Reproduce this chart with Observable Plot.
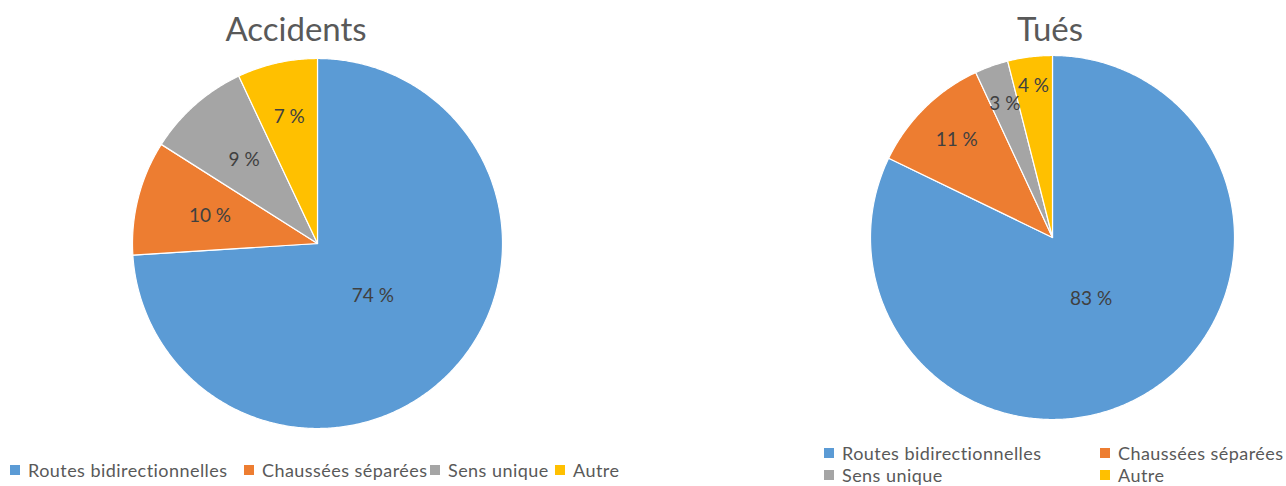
<!DOCTYPE html>
<html>
<head>
<meta charset="utf-8">
<script src="https://cdn.jsdelivr.net/npm/d3@7"></script>
<script src="https://cdn.jsdelivr.net/npm/@observablehq/plot@0.6"></script>
<style>
  html, body { margin: 0; padding: 0; background: #fff; }
  #root { position: relative; width: 1286px; height: 486px; overflow: hidden; font-family: Lato, "Open Sans", sans-serif; }
  .title { position: absolute; top: 8px; font-size: 33px; color: #595959; transform: translateX(-50%); white-space: nowrap; }
  .panel { position: absolute; top: 50px; }
  .legend { position: absolute; font-size: 18px; letter-spacing: 0.45px; color: #595959; white-space: nowrap; }
  .item { position: absolute; display: flex; align-items: center; }
  .sw { width: 10px; height: 10px; margin-right: 8px; }
</style>
</head>
<body>
<div id="root"></div>
<script>
const categories = ["Routes bidirectionnelles", "Chaussées séparées", "Sens unique", "Autre"];
const accidents = [74, 10, 9, 7];
const tues = [83, 11, 3, 4];
const titles = ["Accidents", "Tués"];
const colors = ["#5B9BD5", "#ED7D31", "#A5A5A5", "#FFC000"];

const root = document.getElementById("root");

function pieChart(values, {width, height, cx, cy, r, labelFrac}) {
  const total = d3.sum(values);
  const slices = [];
  const labels = [];
  let a0 = 0;
  values.forEach((v, i) => {
    const a1 = a0 + (v / total) * 2 * Math.PI;
    const cat = categories[i];
    slices.push({cat, x: 0, y: 0});
    const n = Math.max(2, Math.ceil((a1 - a0) / (Math.PI / 360)));
    for (let k = 0; k <= n; k++) {
      const a = a0 + (a1 - a0) * k / n;
      slices.push({cat, x: r * Math.sin(a), y: r * Math.cos(a)});
    }
    slices.push({cat, x: 0, y: 0});
    const am = (a0 + a1) / 2;
    const lr = r * labelFrac[i];
    labels.push({cat, text: `${v} %`, x: lr * Math.sin(am), y: lr * Math.cos(am)});
    a0 = a1;
  });
  return Plot.plot({
    width, height,
    margin: 0,
    style: {background: "transparent", overflow: "visible"},
    x: {domain: [-cx, width - cx], axis: null},
    y: {domain: [-(height - cy), cy], axis: null},
    color: {domain: categories, range: colors},
    marks: [
      Plot.line(slices, {x: "x", y: "y", z: "cat", fill: "cat", stroke: "white", strokeWidth: 1.2, curve: "linear"}),
      Plot.text(labels, {x: "x", y: "y", text: "text", fill: "#404040", fontSize: 19, fontFamily: "Lato, 'Open Sans', sans-serif"})
    ]
  });
}

const left = document.createElement("div");
left.className = "panel";
left.style.left = "0px";
left.appendChild(pieChart(accidents, {width: 643, height: 390, cx: 317, cy: 193, r: 185, labelFrac: [0.41, 0.6, 0.6, 0.7]}));
root.appendChild(left);

const right = document.createElement("div");
right.className = "panel";
right.style.left = "643px";
right.appendChild(pieChart(tues, {width: 643, height: 390, cx: 409, cy: 187, r: 182, labelFrac: [0.40, 0.75, 0.78, 0.84]}));
root.appendChild(right);

[[titles[0], 296], [titles[1], 1050]].forEach(([t, x]) => {
  const d = document.createElement("div");
  d.className = "title";
  d.style.left = x + "px";
  d.textContent = t;
  root.appendChild(d);
});

function legendItem(i, x, y) {
  const it = document.createElement("div");
  it.className = "item";
  it.style.left = x + "px";
  it.style.top = y + "px";
  const sw = document.createElement("div");
  sw.className = "sw";
  sw.style.background = colors[i];
  const tx = document.createElement("span");
  tx.textContent = categories[i];
  it.appendChild(sw);
  it.appendChild(tx);
  return it;
}
const legL = document.createElement("div");
legL.className = "legend";
legL.style.left = "0px"; legL.style.top = "0px";
[[0, 10], [1, 244], [2, 430], [3, 555]].forEach(([i, x]) => legL.appendChild(legendItem(i, x, 459)));
root.appendChild(legL);

const legR = document.createElement("div");
legR.className = "legend";
legR.style.left = "0px"; legR.style.top = "0px";
[[0, 824, 442], [1, 1100, 442], [2, 824, 464], [3, 1100, 464]].forEach(([i, x, y]) => legR.appendChild(legendItem(i, x, y)));
root.appendChild(legR);
</script>
</body>
</html>
